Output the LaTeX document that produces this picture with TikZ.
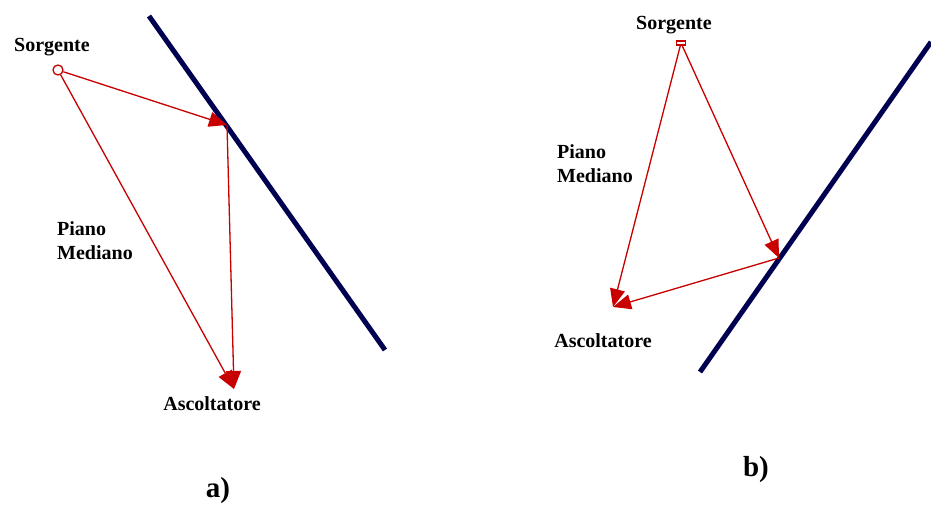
\documentclass[tikz,border=0pt]{standalone}
\usepackage{fontspec}
\setmainfont{Liberation Serif}
\usetikzlibrary{positioning,arrows.meta}
\definecolor{raggio}{RGB}{200,0,0}
\definecolor{parete}{RGB}{0,0,80}
\begin{document}
\begin{tikzpicture}[x=1pt,y=-1pt,
	every node/.style={font=\fontsize{20}{24}\selectfont\bfseries, inner sep=0pt},
	raggio/.style={-{Triangle[length=18pt,width=15pt]}, draw=raggio, fill=raggio, line width=1.3pt},
	parete/.style={draw=parete, line width=5pt}
	]
	\useasboundingbox (0,0) rectangle (931,505);

	% a)
	\draw[parete] (149,16) -- (385,350);
	\node[circle, draw=raggio, line width=1.3pt, minimum size=10pt] (sa) at (58,70) {};
	\node (lsa) at (52,47) {Sorgente};
	\coordinate (ra) at (227,125);
	\coordinate (aa) at (234,389);
	\node (laa) at (212,404) {Ascoltatore};
	\node[align=left, anchor=north west] (pa) at (57,221) {Piano\\Mediano};
	\draw[raggio] (sa) -- (ra);
	\draw[raggio] (ra) -- (aa);
	\draw[raggio] (sa) -- (aa);
	\node[font=\fontsize{29}{30}\selectfont\bfseries] (na) at (218,491) {a)};

	% b)
	\draw[parete] (700,372) -- (931,42);
	\node[rectangle, draw=raggio, line width=1.3pt, minimum width=9pt, minimum height=4pt] (sb) at (681,43) {};
	\node (lsb) at (674,25) {Sorgente};
	\coordinate (rb) at (779,258);
	\coordinate (ab) at (613,307);
	\node (lab) at (603,341) {Ascoltatore};
	\node[align=left, anchor=north west] (pb) at (557,144) {Piano\\Mediano};
	\draw[raggio] (sb) -- (rb);
	\draw[raggio] (rb) -- (ab);
	\draw[raggio] (sb) -- (ab);
	\node[font=\fontsize{29}{30}\selectfont\bfseries] (nb) at (756,470) {b)};
\end{tikzpicture}
\end{document}
